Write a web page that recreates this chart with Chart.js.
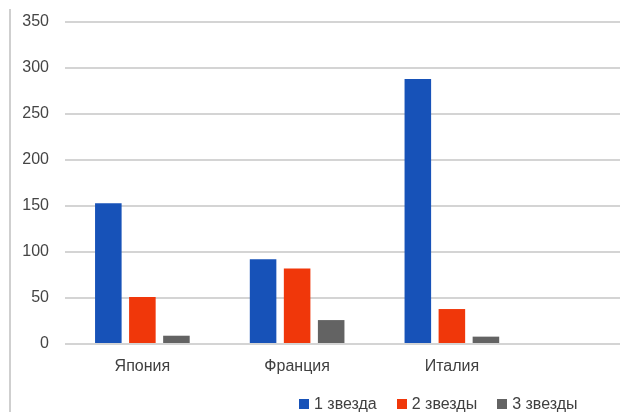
<!DOCTYPE html>
<html lang="ru">
<head>
<meta charset="utf-8">
<title>Звезды Мишлен по странам</title>
<script src="https://cdn.jsdelivr.net/npm/chart.js@4.4.1/dist/chart.umd.min.js"></script>
<style>
  html, body { margin: 0; padding: 0; background: #fff; }
  #frame {
    position: relative; width: 620px; height: 412px; overflow: hidden;
    font-family: "Liberation Sans", Arial, sans-serif;
  }
  #edge {
    position: absolute; left: 9px; top: 9px; bottom: 0; width: 0;
    border-left: 2px solid #cfcfcf;
  }
  #wrap { position: absolute; left: 0; top: 0; width: 700px; height: 412px; }
  #legend {
    position: absolute; left: 299px; top: 395px; display: flex; gap: 20px;
    font-size: 16px; color: #404040; line-height: 18px;
  }
  #legend span.item { display: flex; align-items: center; white-space: nowrap; }
  #legend i { display: inline-block; width: 10px; height: 10px; margin-right: 5px; }
</style>
</head>
<body>
<div id="frame">
  <div id="wrap"><canvas id="chart" width="700" height="412"></canvas></div>
  <div id="edge"></div>
  <div id="legend"></div>
</div>
<script>
// Countries on the category axis (the last slot is left empty)
const categories = ['Япония', 'Франция', 'Италия', ''];
// Number of restaurants per star rating
const oneStar   = [153, 92, 288, null];
const twoStars  = [51, 82, 38, null];
const threeStars = [9, 26, 8, null];
const seriesNames = ['1 звезда', '2 звезды', '3 звезды'];
const seriesColors = ['#1752b8', '#f0370a', '#636363'];
const yTicks = [0, 50, 100, 150, 200, 250, 300, 350];

const values = [oneStar, twoStars, threeStars];

const chart = new Chart(document.getElementById('chart'), {
  type: 'bar',
  data: {
    labels: categories,
    datasets: values.map((v, i) => ({
      label: seriesNames[i],
      data: v,
      backgroundColor: seriesColors[i],
      borderWidth: 0,
      categoryPercentage: 0.66,
      barPercentage: 0.78
    }))
  },
  options: {
    responsive: false,
    animation: false,
    layout: { padding: { top: 22, right: 16, bottom: 0, left: 0 } },
    plugins: { legend: { display: false }, tooltip: { enabled: false } },
    scales: {
      x: {
        grid: { display: false, drawTicks: false },
        border: { display: false },
        ticks: {
          color: '#404040', padding: 13,
          font: { family: 'Liberation Sans', size: 16 },
          maxRotation: 0
        },
        afterFit: s => { s.height = 68; s.paddingLeft = 0; s.paddingRight = 0; }
      },
      y: {
        min: 0, max: 350,
        afterBuildTicks: s => { s.ticks = yTicks.map(v => ({ value: v })); },
        grid: { color: '#d4d4d4', lineWidth: 2, drawTicks: false },
        border: { display: false },
        ticks: {
          color: '#454545', padding: 16,
          font: { family: 'Liberation Sans', size: 16 }
        },
        afterFit: s => { s.width = 65; s.paddingTop = 0; s.paddingBottom = 0; }
      }
    }
  }
});

// Legend built from the dataset names and colours
const legend = document.getElementById('legend');
chart.data.datasets.forEach(ds => {
  const item = document.createElement('span');
  item.className = 'item';
  const sw = document.createElement('i');
  sw.style.background = ds.backgroundColor;
  item.appendChild(sw);
  item.appendChild(document.createTextNode(ds.label));
  legend.appendChild(item);
});
</script>
</body>
</html>
